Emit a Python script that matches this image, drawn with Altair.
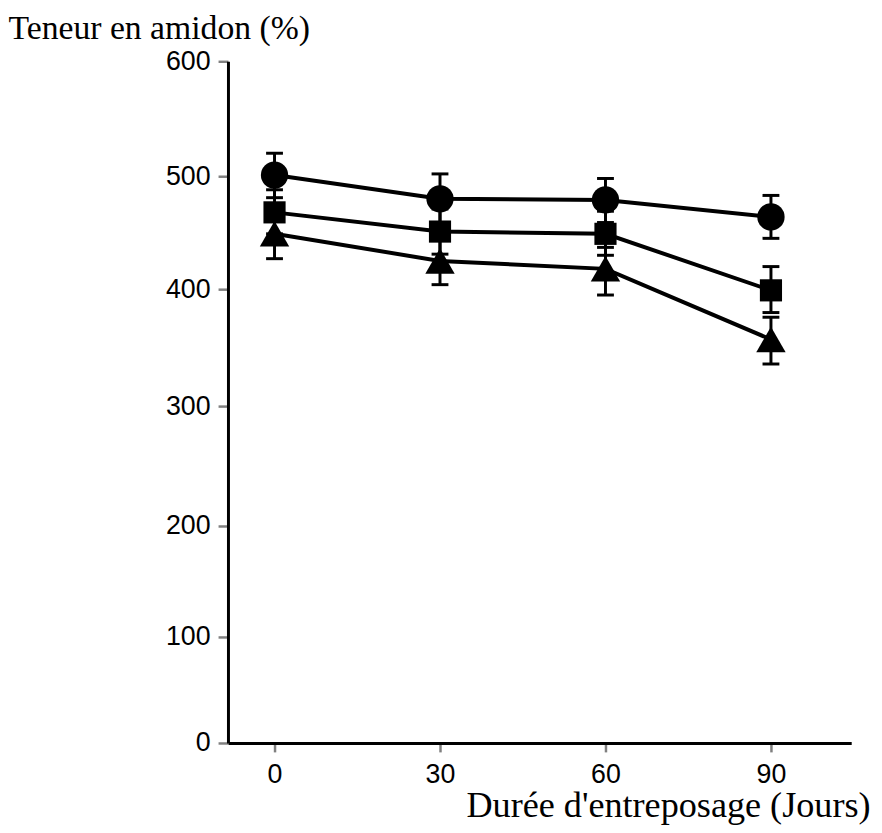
import altair as alt
import pandas as pd

# ---- data ----
days = [0, 30, 60, 90]
series_names = ["cercle", "carre", "triangle"]

circle_vals = [501, 480, 479, 464]
circle_hi = [520, 502, 498, 483]
circle_lo = [481, 459, 459, 445]

square_vals = [468, 451, 449, 399]
square_hi = [488, 471, 469, 420]
square_lo = [449, 431, 430, 380]

tri_vals = [449, 425, 418, 357]
tri_hi = [469, 446, 437, 376]
tri_lo = [427, 404, 395, 336]

y_ticks = [0, 100, 200, 300, 400, 500, 600]
x_ticks = [0, 30, 60, 90]

rows = []
for name, vals, hi, lo in [
    ("cercle", circle_vals, circle_hi, circle_lo),
    ("carre", square_vals, square_hi, square_lo),
    ("triangle", tri_vals, tri_hi, tri_lo),
]:
    for d, v, h, l in zip(days, vals, hi, lo):
        rows.append({"jour": d, "serie": name, "valeur": v, "haut": h, "bas": l})
df = pd.DataFrame(rows)

W, H = 629, 688

x_scale = alt.Scale(domain=[-8.44, 104.55], nice=False, zero=False)
y_scale = alt.Scale(domain=y_ticks, range=[688, 581, 469, 348, 230, 116, 0],
                    nice=False, zero=False)

x_axis = alt.Axis(
    values=x_ticks, grid=False,
    labelFont="Liberation Sans", labelFontSize=27, labelColor="#000000",
    labelPadding=10, tickColor="#808080", tickSize=9, tickWidth=2.5,
    domainColor="#000000", domainWidth=3,
    title="Durée d'entreposage (Jours)", titleFont="Liberation Serif",
    titleFontSize=36.5, titleFontWeight="normal", titleColor="#000000",
    titleAngle=0, titleAlign="right", titleBaseline="alphabetic",
    titleX=648, titleY=74,
)
y_axis = alt.Axis(
    values=y_ticks, grid=False,
    labelFont="Liberation Sans", labelFontSize=27, labelColor="#000000",
    labelPadding=8, tickColor="#808080", tickSize=10, tickWidth=2.5,
    domainColor="#000000", domainWidth=3,
    title="Teneur en amidon (%)", titleFont="Liberation Serif",
    titleFontSize=34, titleFontWeight="normal", titleColor="#000000",
    titleAngle=0, titleAlign="left", titleBaseline="alphabetic",
    titleX=-222, titleY=-23,
)

base = alt.Chart(df)

lines = base.mark_line(color="black", strokeWidth=4).encode(
    x=alt.X("jour:Q", scale=x_scale, axis=x_axis),
    y=alt.Y("valeur:Q", scale=y_scale, axis=y_axis),
    detail="serie:N",
)

rules = base.mark_rule(color="black", strokeWidth=3).encode(
    x=alt.X("jour:Q", scale=x_scale),
    y=alt.Y("bas:Q", scale=y_scale),
    y2="haut:Q",
)

cap_kw = dict(shape="M-1,0L1,0", size=289, strokeWidth=3, filled=False,
              color="black", opacity=1)
caps_hi = base.mark_point(**cap_kw).encode(
    x=alt.X("jour:Q", scale=x_scale), y=alt.Y("haut:Q", scale=y_scale))
caps_lo = base.mark_point(**cap_kw).encode(
    x=alt.X("jour:Q", scale=x_scale), y=alt.Y("bas:Q", scale=y_scale))

def markers(name, shape, size):
    return base.transform_filter(alt.datum.serie == name).mark_point(
        shape=shape, size=size, filled=True, color="black", opacity=1
    ).encode(x=alt.X("jour:Q", scale=x_scale), y=alt.Y("valeur:Q", scale=y_scale))

chart = alt.layer(
    lines, rules, caps_hi, caps_lo,
    markers("cercle", "circle", 760),
    markers("carre", "square", 500),
    markers("triangle", "triangle-up", 880),
).properties(
    width=W, height=H,
    background="white",
    autosize=alt.AutoSizeParams(type="none"),
    padding={"left": 222, "top": 50, "right": 23, "bottom": 79},
).configure_view(stroke="transparent", strokeWidth=0)

chart.save("out.html", embed_options={"renderer": "svg", "actions": False})
